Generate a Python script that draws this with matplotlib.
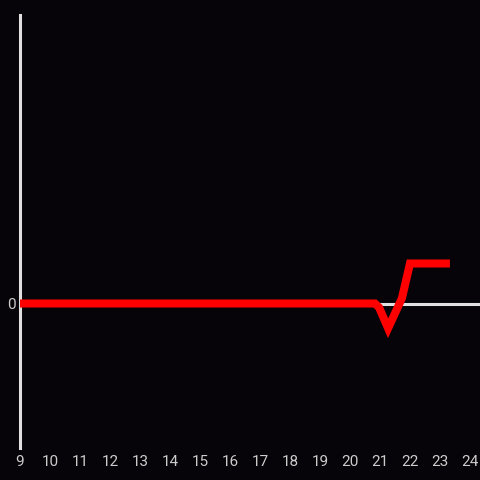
import matplotlib
matplotlib.use("Agg")
import matplotlib.pyplot as plt

hours = [9, 20.83, 20.97, 21.27, 21.73, 22.0, 23.33]
values = [0.0, 0.0, -0.1, -0.62, 0.13, 1.0, 1.0]
xticks = list(range(9, 25))

bg = "#060408"
fg = "#e0e0e0"

fig = plt.figure(figsize=(4.8, 4.8), dpi=100, facecolor=bg)
ax = fig.add_axes([20 / 480, 32 / 480, 460 / 480, 433 / 480], facecolor=bg)

ax.axhline(0, color=fg, linewidth=2.2, zorder=1)
ax.plot(hours, values, color="#ff0000", linewidth=5.8,
        solid_joinstyle="miter", solid_capstyle="butt", zorder=3)

ax.set_xlim(9, 9 + 460 / 30)
ax.set_ylim(-(448 - 303.5) / 40, (303.5 - 15) / 40)
ax.set_xticks(xticks)
ax.set_yticks([0])
ax.tick_params(length=0, colors="#cccccc", labelsize=11, pad=5)
for lab in ax.get_xticklabels() + ax.get_yticklabels():
    lab.set_fontfamily("Roboto")
ax.tick_params(axis="y", pad=3)

for s in ["top", "right", "bottom"]:
    ax.spines[s].set_visible(False)
ax.spines["left"].set_color(fg)
ax.spines["left"].set_linewidth(2.2)

fig.savefig("out.png", dpi=100, facecolor=bg)
